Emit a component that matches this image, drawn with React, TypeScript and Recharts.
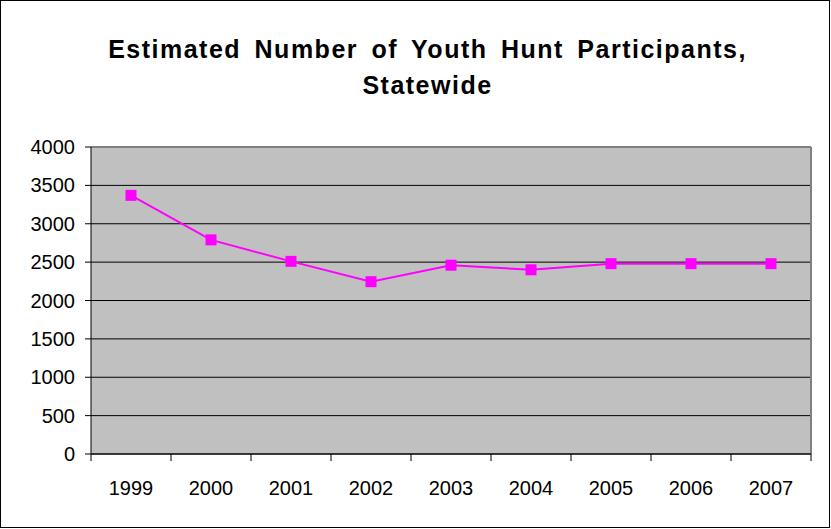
import {
  LineChart,
  Line,
  XAxis,
  YAxis,
  CartesianGrid,
  ReferenceLine,
} from "recharts";

const years = ["1999", "2000", "2001", "2002", "2003", "2004", "2005", "2006", "2007"];
const participants = [3370, 2790, 2510, 2245, 2460, 2400, 2480, 2480, 2480];
const yTicks = [0, 500, 1000, 1500, 2000, 2500, 3000, 3500, 4000];

const data = years.map((year, i) => ({ x: i + 0.5, year, value: participants[i] }));

// ticks at category edges (lines) and centers (labels), Excel style
const xTicks: number[] = [];
for (let i = 0; i <= years.length; i++) {
  xTicks.push(i);
  if (i < years.length) xTicks.push(i + 0.5);
}

const FONT = "'Liberation Sans', Arial, sans-serif";

function XTick({ x, y, payload }: any) {
  const v = payload.value as number;
  if (Number.isInteger(v)) {
    return <line x1={x} x2={x} y1={y - 8} y2={y - 1} stroke="#000" strokeWidth={1} />;
  }
  return (
    <text x={x} y={y + 33} textAnchor="middle" fontSize={20} fontFamily={FONT} fill="#000">
      {years[Math.floor(v)]}
    </text>
  );
}

function SquareDot({ cx, cy }: any) {
  return <rect x={cx - 5.5} y={cy - 5.5} width={11} height={11} fill="#ff00ff" />;
}

export default function App() {
  return (
    <div
      style={{
        position: "absolute",
        left: 0,
        top: 0,
        width: 831,
        height: 529,
        background: "#fff",
        fontFamily: FONT,
      }}
    >
      <div
        style={{
          position: "absolute",
          left: 0,
          top: 0,
          width: 828,
          height: 526,
          border: "1px solid #000",
        }}
      />
      <div
        style={{
          position: "absolute",
          left: 0,
          top: 31,
          width: 855,
          textAlign: "center",
          fontWeight: "bold",
          fontSize: 25,
          lineHeight: "36px",
          letterSpacing: 1.5,
          wordSpacing: 5,
        }}
      >
        Estimated Number of Youth Hunt Participants,
        <br />
        Statewide
      </div>
      <LineChart
        width={831}
        height={529}
        data={data}
        margin={{ top: 147, right: 20, bottom: 0, left: 0 }}
        style={{ position: "absolute", left: 0, top: 0 }}
      >
        <CartesianGrid vertical={false} stroke="#000" strokeWidth={1} fill="#c0c0c0" fillOpacity={1} />
        <XAxis
          dataKey="x"
          type="number"
          domain={[0, years.length]}
          ticks={xTicks}
          interval={0}
          height={75}
          tickLine={false}
          axisLine={{ stroke: "#000" }}
          tick={<XTick />}
        />
        <YAxis
          type="number"
          domain={[0, 4000]}
          ticks={yTicks}
          interval={0}
          width={91}
          tickSize={6}
          tickMargin={10}
          tickLine={{ stroke: "#000" }}
          axisLine={{ stroke: "#000" }}
          tick={{ fontSize: 20, fontFamily: FONT, fill: "#000" }}
        />
        <ReferenceLine y={4000} stroke="#808080" strokeWidth={2} />
        <ReferenceLine x={years.length} stroke="#808080" strokeWidth={2} />
        <Line
          dataKey="value"
          stroke="#ff00ff"
          strokeWidth={2}
          dot={<SquareDot />}
          activeDot={false}
          isAnimationActive={false}
        />
      </LineChart>
    </div>
  );
}
